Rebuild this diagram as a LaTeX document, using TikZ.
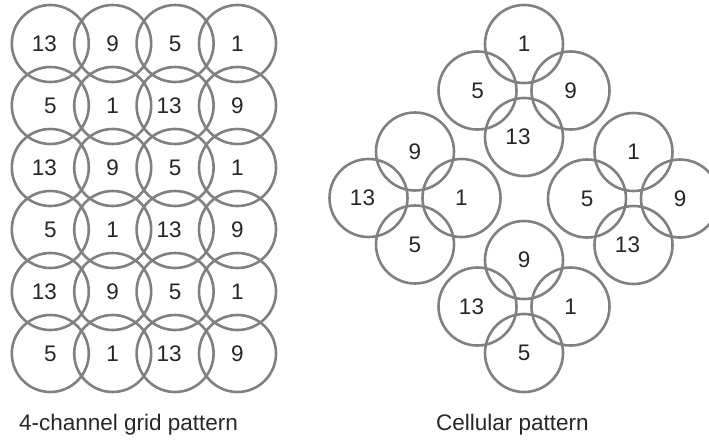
\documentclass[tikz,border=0pt]{standalone}
\usepackage{fontspec}
\setmainfont{Liberation Sans}
\definecolor{ring}{RGB}{128,128,128}
\definecolor{ink}{RGB}{38,38,38}
\tikzset{
  cell/.style={circle, draw=ring, line width=2.6pt, minimum size=77pt, inner sep=0pt, outer sep=0pt},
  cellc/.style={cell, minimum size=78pt},
  num/.style={text=ink, font=\fontsize{22.5}{26}\selectfont, inner sep=0pt},
  caption/.style={text=ink, font=\fontsize{22.5}{26}\selectfont, anchor=base, inner sep=0pt}
}
\begin{document}
\begin{tikzpicture}[x=1pt,y=-1pt]
\path[use as bounding box, clip] (0,0) rectangle (709,439);

% 4-channel grid: 6 rows x 4 columns of overlapping coverage circles
\foreach \row/\labs in {1/{13,9,5,1},2/{5,1,13,9},3/{13,9,5,1},4/{5,1,13,9},5/{13,9,5,1},6/{5,1,13,9}}{
  \foreach \lab [count=\col] in \labs {
    \pgfmathsetmacro\dx{\lab==13 ? -6 : 0}
    \node[cell] (g-\row-\col) at ({50.3+62.4*(\col-1)},{43.5+62*(\row-1)}) {};
    \node[num, xshift=\dx pt] (gn-\row-\col) at (g-\row-\col) {\lab};
  }
}

% cellular pattern: four clusters of four circles arranged in a diamond
\foreach \cl/\cx/\cy/\lt/\ll/\lr/\lb in {t/524/90.5/1/5/9/13, l/415/198/9/13/1/5, r/633.5/198.5/1/5/9/13, b/524/306.5/9/13/1/5}{
  \foreach \pos/\ox/\oy/\lab in {n/0/-46.5/\lt, w/-46.5/0/\ll, e/46.5/0/\lr, s/0/46.5/\lb}{
    \pgfmathsetmacro\dx{\lab==13 ? -6 : 0}
    \node[cellc] (c-\cl-\pos) at ({\cx+\ox},{\cy+\oy}) {};
    \node[num, xshift=\dx pt] (cn-\cl-\pos) at (c-\cl-\pos) {\lab};
  }
}

% captions
\node[caption] (capgrid) at (128.5,430.5) {4-channel grid pattern};
\node[caption] (capcell) at (512.5,430.5) {Cellular pattern};
\end{tikzpicture}
\end{document}
